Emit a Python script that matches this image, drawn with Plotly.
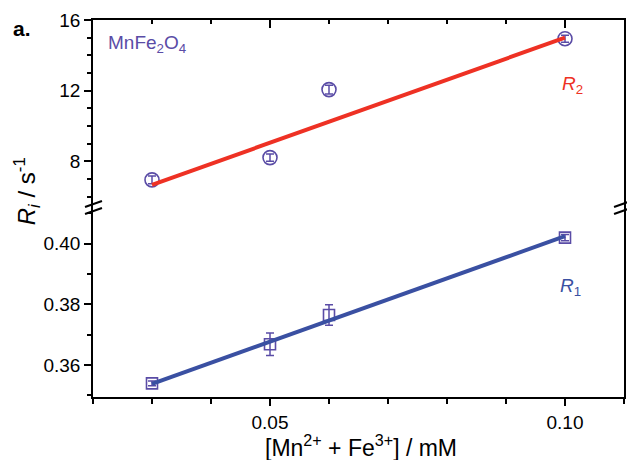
import plotly.graph_objects as go

# ---- data ----
conc = [0.03, 0.05, 0.06, 0.10]
r2 = [6.95, 8.21, 12.06, 14.94]
r2_err = [0.22, 0.2, 0.25, 0.2]
r1 = [0.354, 0.3669, 0.3765, 0.4020]
r1_err = [0.0008, 0.0037, 0.0034, 0.0010]
fit_x = [0.03, 0.10]
r2_fit = [6.67, 15.0]
r1_fit = [0.3538, 0.4025]

MARK = "#5a4ca6"
RED = "#ee3124"
BLUE = "#3a50a2"
FONT = "Liberation Sans"

W, H = 627, 460
ML, MR, MT, MB = 93, 1, 20, 63
PW, PH = W - ML - MR, H - MT - MB


def px(x):
    return (x - ML) / PW


def py(y):
    return (H - MB - y) / PH


fig = go.Figure()

# bottom panel: R1
fig.add_trace(go.Scatter(
    x=conc, y=r1, mode="markers", xaxis="x", yaxis="y",
    marker=dict(symbol="square-open", size=11, color=MARK, line=dict(width=1.6, color=MARK)),
    error_y=dict(type="data", array=r1_err, color=MARK, thickness=1.5, width=4),
    showlegend=False))
fig.add_trace(go.Scatter(
    x=fit_x, y=r1_fit, mode="lines", xaxis="x", yaxis="y",
    line=dict(color=BLUE, width=4), showlegend=False))

# top panel: R2
fig.add_trace(go.Scatter(
    x=conc, y=r2, mode="markers", xaxis="x2", yaxis="y2",
    marker=dict(symbol="circle-open", size=14, color=MARK, line=dict(width=1.6, color=MARK)),
    error_y=dict(type="data", array=r2_err, color=MARK, thickness=1.5, width=4),
    showlegend=False))
fig.add_trace(go.Scatter(
    x=fit_x, y=r2_fit, mode="lines", xaxis="x2", yaxis="y2",
    line=dict(color=RED, width=4), showlegend=False))

axis_common = dict(showline=True, linecolor="black", linewidth=1.6, showgrid=False,
                   zeroline=False, tickcolor="black", tickwidth=1.5,
                   tickfont=dict(family=FONT, size=19, color="black"))

fig.update_layout(
    width=W, height=H,
    margin=dict(l=ML, r=MR, t=MT, b=MB),
    paper_bgcolor="white", plot_bgcolor="white",
    xaxis=dict(**axis_common, domain=[0, 1], range=[0.02, 0.11], anchor="y",
               ticks="outside", ticklen=7, dtick=0.05, tick0=0, tickformat=".2f",
               minor=dict(ticks="outside", ticklen=5, dtick=0.01, tick0=0,
                          tickcolor="black", tickwidth=1.5, showgrid=False)),
    yaxis=dict(**axis_common, domain=[0, 0.5], range=[0.3495, 0.4116], anchor="x",
               mirror=True, ticks="outside", ticklen=7, dtick=0.02, tick0=0,
               tickformat=".2f",
               minor=dict(ticks="outside", ticklen=4, dtick=0.01, tick0=0,
                          tickcolor="black", tickwidth=1.5, showgrid=False)),
    xaxis2=dict(**axis_common, domain=[0, 1], range=[0.02, 0.11], anchor="y2",
                side="top", ticks="inside", ticklen=8, dtick=0.05, tick0=0,
                showticklabels=False,
                minor=dict(ticks="inside", ticklen=4, dtick=0.01, tick0=0,
                           tickcolor="black", tickwidth=1.5, showgrid=False)),
    yaxis2=dict(**axis_common, domain=[0.5, 1], range=[5.33, 16], anchor="x2",
                mirror=True, ticks="outside", ticklen=7, dtick=4, tick0=0,
                minor=dict(ticks="outside", ticklen=4, dtick=1, tick0=0,
                           tickcolor="black", tickwidth=1.5, showgrid=False)),
)

# text labels
fig.add_annotation(x=0.0222, y=14.62, xref="x2", yref="y2", xanchor="left", yanchor="middle",
                   text="MnFe<sub>2</sub>O<sub>4</sub>", showarrow=False,
                   font=dict(family=FONT, size=19, color=MARK))
fig.add_annotation(x=0.1012, y=12.3, xref="x2", yref="y2", xanchor="center", yanchor="middle",
                   text="<i>R</i><sub>2</sub>", showarrow=False,
                   font=dict(family=FONT, size=19, color=RED))
fig.add_annotation(x=0.1009, y=0.3858, xref="x", yref="y", xanchor="center", yanchor="middle",
                   text="<i>R</i><sub>1</sub>", showarrow=False,
                   font=dict(family=FONT, size=19, color=BLUE))
fig.add_annotation(x=px(11), y=py(28), xref="paper", yref="paper", xanchor="left", yanchor="middle",
                   text="<b>a.</b>", showarrow=False,
                   font=dict(family=FONT, size=21, color="black"))
fig.add_annotation(x=px(27), y=py(191), xref="paper", yref="paper", xanchor="center", yanchor="middle",
                   text="<i>R</i><sub><i>i</i></sub> / s<sup>-1</sup>", textangle=-90,
                   showarrow=False, font=dict(family=FONT, size=24, color="black"))
fig.add_annotation(x=px(362), y=py(446), xref="paper", yref="paper", xanchor="center", yanchor="middle",
                   text="[Mn<sup>2+</sup> + Fe<sup>3+</sup>] / mM",
                   showarrow=False, font=dict(family=FONT, size=23, color="black"))

# axis-break marks
for (x0, x1) in [(85, 102), (616, 633)]:
    for dy in (0, 7):
        fig.add_shape(type="line", xref="paper", yref="paper",
                      x0=px(x0), y0=py(207 + dy), x1=px(x1), y1=py(201 + dy),
                      line=dict(color="black", width=2))

fig.write_html("out.html", config={"displayModeBar": False},
               post_script="document.body.style.margin='0';")
